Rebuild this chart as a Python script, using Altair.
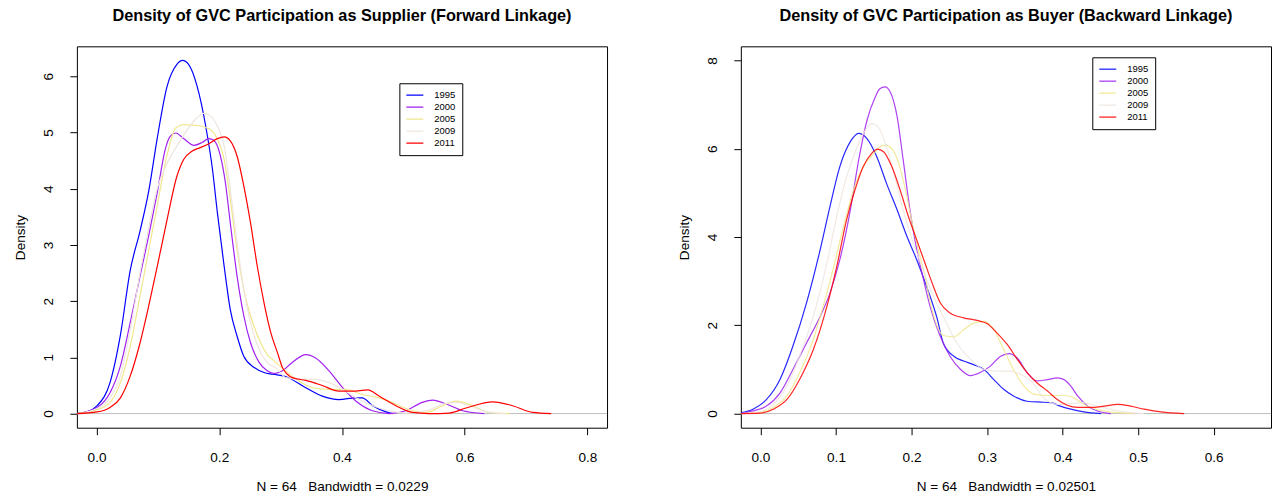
import altair as alt
import pandas as pd

YEARS = ["1995", "2000", "2005", "2009", "2011"]
COLORS = ["#0000FF", "#A020F0", "#F0E68C", "#EEE5DE", "#FF0000"]

# ---------------- Forward linkage (supplier) densities ----------------
FWD_X_1995 = [-0.032, -0.015, 0.001, 0.022, 0.039, 0.055, 0.071, 0.085, 0.099, 0.115, 0.131, 0.140, 0.150, 0.164, 0.178, 0.189, 0.197, 0.208, 0.218, 0.229, 0.240, 0.257, 0.273, 0.287, 0.308, 0.341, 0.368, 0.395, 0.423, 0.433, 0.450, 0.472, 0.482]
FWD_Y_1995 = [0.0, 0.03, 0.14, 0.55, 1.40, 2.55, 3.25, 3.95, 4.90, 5.82, 6.21, 6.28, 6.21, 5.82, 5.11, 4.34, 3.57, 2.62, 1.85, 1.38, 1.02, 0.82, 0.73, 0.70, 0.66, 0.46, 0.31, 0.25, 0.28, 0.28, 0.14, 0.03, 0.0]

FWD_X_2000 = [-0.032, 0.001, 0.022, 0.039, 0.055, 0.071, 0.085, 0.099, 0.112, 0.120, 0.129, 0.142, 0.159, 0.172, 0.183, 0.191, 0.202, 0.210, 0.218, 0.229, 0.240, 0.251, 0.265, 0.278, 0.290, 0.303, 0.319, 0.341, 0.357, 0.379, 0.401, 0.423, 0.450, 0.477, 0.504, 0.531, 0.548, 0.570, 0.597, 0.632]
FWD_Y_2000 = [0.0, 0.11, 0.37, 0.85, 1.62, 2.45, 3.16, 3.93, 4.70, 4.93, 4.99, 4.89, 4.77, 4.82, 4.89, 4.86, 4.58, 4.11, 3.39, 2.45, 1.74, 1.26, 0.91, 0.76, 0.71, 0.76, 0.91, 1.05, 0.99, 0.76, 0.46, 0.22, 0.05, 0.0, 0.05, 0.20, 0.24, 0.17, 0.05, 0.0]

FWD_X_2005 = [-0.032, 0.001, 0.022, 0.039, 0.055, 0.071, 0.085, 0.099, 0.115, 0.129, 0.142, 0.159, 0.175, 0.189, 0.197, 0.208, 0.218, 0.229, 0.240, 0.251, 0.265, 0.278, 0.287, 0.308, 0.330, 0.352, 0.379, 0.406, 0.433, 0.461, 0.488, 0.515, 0.537, 0.564, 0.586, 0.613, 0.640, 0.673]
FWD_Y_2005 = [0.0, 0.07, 0.20, 0.55, 1.20, 2.10, 2.90, 3.70, 4.60, 5.08, 5.14, 5.13, 5.10, 5.02, 4.88, 4.52, 3.81, 2.92, 2.21, 1.74, 1.32, 1.05, 0.96, 0.76, 0.58, 0.46, 0.43, 0.43, 0.34, 0.28, 0.17, 0.05, 0.02, 0.14, 0.22, 0.14, 0.02, 0.0]

FWD_X_2009 = [-0.032, 0.001, 0.022, 0.039, 0.055, 0.071, 0.085, 0.099, 0.115, 0.131, 0.148, 0.161, 0.175, 0.186, 0.197, 0.208, 0.218, 0.229, 0.240, 0.251, 0.265, 0.278, 0.295, 0.308, 0.335, 0.357, 0.379, 0.401, 0.423, 0.450, 0.477, 0.504, 0.537, 0.569, 0.586, 0.613, 0.640, 0.667]
FWD_Y_2009 = [0.0, 0.09, 0.28, 0.67, 1.50, 2.50, 3.30, 4.00, 4.45, 4.76, 5.05, 5.23, 5.34, 5.29, 5.11, 4.76, 3.99, 3.04, 2.21, 1.62, 1.14, 0.91, 0.79, 0.64, 0.61, 0.61, 0.55, 0.43, 0.28, 0.14, 0.05, 0.01, 0.05, 0.18, 0.20, 0.12, 0.02, 0.0]

FWD_X_2011 = [-0.032, 0.001, 0.022, 0.039, 0.055, 0.071, 0.085, 0.099, 0.115, 0.131, 0.142, 0.156, 0.169, 0.183, 0.197, 0.208, 0.218, 0.229, 0.240, 0.251, 0.262, 0.273, 0.284, 0.295, 0.303, 0.319, 0.341, 0.368, 0.395, 0.417, 0.442, 0.461, 0.488, 0.515, 0.542, 0.575, 0.602, 0.646, 0.678, 0.711, 0.741]
FWD_Y_2011 = [0.0, 0.03, 0.11, 0.28, 0.67, 1.26, 1.91, 2.62, 3.45, 4.22, 4.52, 4.67, 4.73, 4.80, 4.89, 4.92, 4.85, 4.58, 4.05, 3.39, 2.62, 1.97, 1.44, 1.08, 0.82, 0.64, 0.59, 0.50, 0.40, 0.40, 0.42, 0.31, 0.14, 0.02, 0.0, 0.01, 0.10, 0.21, 0.14, 0.02, 0.0]

# ---------------- Backward linkage (buyer) densities ----------------
BWD_X_1995 = [-0.026, -0.010, 0.008, 0.026, 0.043, 0.061, 0.079, 0.092, 0.105, 0.119, 0.130, 0.141, 0.154, 0.167, 0.181, 0.194, 0.207, 0.220, 0.234, 0.242, 0.256, 0.269, 0.282, 0.296, 0.309, 0.322, 0.335, 0.353, 0.371, 0.384, 0.397, 0.411, 0.428, 0.451]
BWD_Y_1995 = [0.02, 0.10, 0.32, 0.78, 1.53, 2.51, 3.71, 4.69, 5.59, 6.16, 6.35, 6.23, 5.82, 5.21, 4.61, 4.01, 3.48, 2.88, 2.15, 1.60, 1.30, 1.19, 1.11, 1.00, 0.77, 0.55, 0.40, 0.28, 0.26, 0.25, 0.17, 0.10, 0.04, 0.0]

BWD_X_2000 = [-0.026, -0.010, 0.008, 0.026, 0.043, 0.061, 0.079, 0.092, 0.105, 0.119, 0.130, 0.141, 0.152, 0.158, 0.165, 0.172, 0.181, 0.189, 0.198, 0.207, 0.216, 0.225, 0.238, 0.251, 0.265, 0.278, 0.291, 0.304, 0.318, 0.329, 0.340, 0.353, 0.366, 0.380, 0.393, 0.402, 0.411, 0.420, 0.433, 0.446, 0.464]
BWD_Y_2000 = [0.0, 0.06, 0.17, 0.47, 1.00, 1.60, 2.20, 2.73, 3.48, 4.61, 5.74, 6.64, 7.17, 7.36, 7.40, 7.28, 6.72, 5.74, 4.61, 3.71, 3.03, 2.40, 1.75, 1.30, 1.00, 0.86, 0.93, 1.07, 1.30, 1.36, 1.26, 0.93, 0.74, 0.77, 0.81, 0.77, 0.62, 0.40, 0.17, 0.06, 0.0]

BWD_X_2005 = [-0.026, -0.001, 0.017, 0.035, 0.052, 0.070, 0.083, 0.097, 0.110, 0.123, 0.136, 0.150, 0.158, 0.165, 0.174, 0.183, 0.192, 0.201, 0.209, 0.218, 0.225, 0.234, 0.242, 0.256, 0.269, 0.282, 0.296, 0.309, 0.322, 0.335, 0.349, 0.362, 0.380, 0.402, 0.415, 0.428, 0.442, 0.455, 0.473, 0.495]
BWD_Y_2005 = [0.0, 0.02, 0.14, 0.40, 0.93, 1.68, 2.43, 3.33, 4.24, 5.06, 5.59, 5.89, 6.04, 6.08, 6.00, 5.67, 5.06, 4.31, 3.71, 3.10, 2.50, 1.98, 1.77, 1.74, 1.90, 2.05, 2.09, 1.90, 1.45, 1.00, 0.62, 0.44, 0.41, 0.41, 0.36, 0.21, 0.11, 0.06, 0.02, 0.0]

BWD_X_2009 = [-0.026, -0.001, 0.017, 0.035, 0.052, 0.070, 0.088, 0.101, 0.114, 0.128, 0.139, 0.147, 0.156, 0.167, 0.178, 0.189, 0.201, 0.212, 0.223, 0.242, 0.260, 0.278, 0.296, 0.313, 0.331, 0.344, 0.358, 0.375, 0.393, 0.411, 0.428, 0.446, 0.468, 0.490, 0.508]
BWD_Y_2009 = [0.0, 0.04, 0.21, 0.63, 1.31, 2.21, 3.41, 4.47, 5.36, 6.04, 6.42, 6.57, 6.49, 6.04, 5.36, 4.61, 3.93, 3.41, 2.90, 2.20, 1.60, 1.23, 1.00, 0.96, 0.96, 0.89, 0.74, 0.36, 0.21, 0.23, 0.25, 0.17, 0.08, 0.02, 0.0]

BWD_X_2011 = [-0.026, -0.001, 0.017, 0.035, 0.052, 0.070, 0.088, 0.101, 0.114, 0.125, 0.136, 0.147, 0.155, 0.163, 0.174, 0.185, 0.196, 0.207, 0.218, 0.229, 0.238, 0.251, 0.269, 0.287, 0.300, 0.313, 0.327, 0.340, 0.353, 0.366, 0.380, 0.393, 0.406, 0.420, 0.437, 0.455, 0.473, 0.490, 0.508, 0.530, 0.561]
BWD_Y_2011 = [0.0, 0.01, 0.10, 0.32, 0.78, 1.45, 2.43, 3.33, 4.39, 5.06, 5.59, 5.89, 5.99, 5.93, 5.59, 5.06, 4.46, 3.93, 3.40, 2.88, 2.51, 2.28, 2.17, 2.11, 2.04, 1.83, 1.56, 1.23, 0.93, 0.70, 0.51, 0.32, 0.19, 0.14, 0.14, 0.17, 0.21, 0.17, 0.10, 0.04, 0.0]

FWD_TITLE = "Density of GVC Participation as Supplier (Forward Linkage)"
BWD_TITLE = "Density of GVC Participation as Buyer (Backward Linkage)"
# non-breaking spaces keep R's triple spacing visible in SVG text
FWD_CAPTION = "N = 64\u00a0\u00a0\u00a0Bandwidth = 0.0229"
BWD_CAPTION = "N = 64\u00a0\u00a0\u00a0Bandwidth = 0.02501"
FWD_XTICKS = [0.0, 0.2, 0.4, 0.6, 0.8]
FWD_YTICKS = [0, 1, 2, 3, 4, 5, 6]
BWD_XTICKS = [0.0, 0.1, 0.2, 0.3, 0.4, 0.5, 0.6]
BWD_YTICKS = [0, 2, 4, 6, 8]
FWD_XLIM = [0.0, 0.8]
FWD_YLIM = [0.0, 6.28]
BWD_XLIM = [0.0, 0.65]
BWD_YLIM = [0.0, 8.0]

FONT = "Liberation Sans"
W, H = 531, 382


def r_range(lim):
    d = (lim[1] - lim[0]) * 0.04
    return [lim[0] - d, lim[1] + d]


def panel(xs, ys, title, caption, xlim, ylim, xticks, yticks, leg_x, leg_y, alpha):
    rows = []
    for yr, xl, yl in zip(YEARS, xs, ys):
        for a, b in zip(xl, yl):
            rows.append({"year": yr, "x": a, "density": b})
    df = pd.DataFrame(rows)

    yenc = alt.Y(
        "density:Q",
        scale=alt.Scale(domain=r_range(ylim), nice=False, zero=False),
        axis=alt.Axis(values=yticks, format="d", title="Density",
                      labelAngle=270, labelAlign="center", labelBaseline="alphabetic",
                      labelPadding=17, titleX=-52, titleY=H / 2, titleAngle=270,
                      titleAlign="center", titleBaseline="alphabetic"),
    )
    xenc = alt.X(
        "x:Q",
        scale=alt.Scale(domain=r_range(xlim), nice=False, zero=False),
        axis=alt.Axis(values=xticks, format=".1f", title=caption,
                      labelBaseline="alphabetic", labelPadding=27,
                      titleX=W / 2, titleY=63, titleBaseline="alphabetic", titleAlign="center"),
    )
    zero = alt.Chart(pd.DataFrame({"density": [0.0]})).mark_rule(
        color="#BEBEBE", strokeWidth=1
    ).encode(y=yenc)
    lines = alt.Chart(df).mark_line(
        strokeWidth=1.2, clip=True, interpolate="monotone", opacity=alpha
    ).encode(
        x=xenc,
        y=yenc,
        color=alt.Color(
            "year:N",
            scale=alt.Scale(domain=YEARS, range=COLORS),
            legend=alt.Legend(
                orient="none", legendX=leg_x, legendY=leg_y, direction="vertical",
                title=None, symbolType="stroke", symbolSize=289, symbolStrokeWidth=1.3,
                symbolOpacity=alpha, labelFont=FONT, labelFontSize=9.5, labelColor="black",
                labelOffset=10, strokeColor="black", fillColor="white", padding=6,
                rowPadding=0, clipHeight=11.8,
            ),
        ),
    )
    return alt.layer(zero, lines).properties(
        width=W,
        height=H,
        title=alt.Title(title, font=FONT, fontSize=16.3, fontWeight="bold", color="black",
                        anchor="middle", frame="group", offset=9, baseline="alphabetic"),
    )


left = panel(
    [FWD_X_1995, FWD_X_2000, FWD_X_2005, FWD_X_2009, FWD_X_2011],
    [FWD_Y_1995, FWD_Y_2000, FWD_Y_2005, FWD_Y_2009, FWD_Y_2011],
    FWD_TITLE, FWD_CAPTION, FWD_XLIM, FWD_YLIM, FWD_XTICKS, FWD_YTICKS, 323, 37, 1.0,
)
right = panel(
    [BWD_X_1995, BWD_X_2000, BWD_X_2005, BWD_X_2009, BWD_X_2011],
    [BWD_Y_1995, BWD_Y_2000, BWD_Y_2005, BWD_Y_2009, BWD_Y_2011],
    BWD_TITLE, BWD_CAPTION, BWD_XLIM, BWD_YLIM, BWD_XTICKS, BWD_YTICKS, 352, 11, 0.85,
)

chart = (
    alt.hconcat(left, right, spacing=134, bounds="flush")
    .resolve_scale(color="independent", x="independent", y="independent")
    .resolve_legend(color="independent")
    .properties(padding={"left": 13, "top": 7, "right": 0, "bottom": 0}, background="white")
    .configure_view(stroke="black", strokeWidth=1)
    .configure_axis(domain=False, grid=False, tickColor="black", tickSize=7, tickWidth=1,
                    labelFont=FONT, labelFontSize=13.6, labelColor="black",
                    titleFont=FONT, titleFontSize=13.6, titleFontWeight="normal",
                    titleColor="black", labelFlush=False, labelOverlap=False)
)

chart.save("out.html", embed_options={"renderer": "svg", "actions": False})
